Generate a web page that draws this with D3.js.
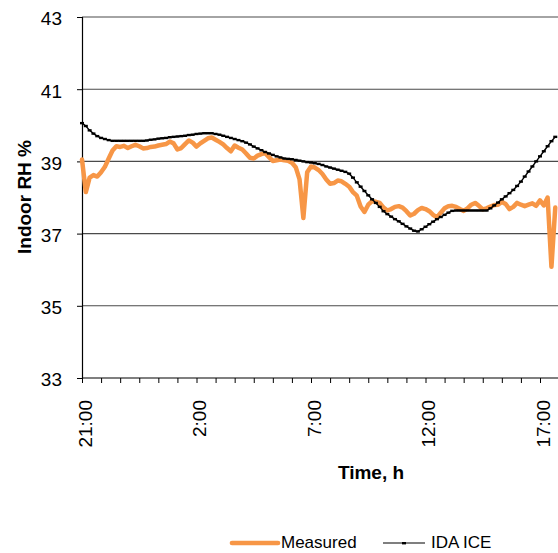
<!DOCTYPE html>
<html>
<head>
<meta charset="utf-8">
<script src="https://cdn.jsdelivr.net/npm/d3@7/dist/d3.min.js"></script>
<style>
  html, body { margin: 0; padding: 0; background: #fff; }
  svg { display: block; font-family: "Liberation Sans", Arial, sans-serif; }
</style>
</head>
<body>
<svg id="chart" width="558" height="553"></svg>
<script>
// Indoor relative humidity, 10-minute readings starting at 21:00
const stepMinutes = 10;

const measured = [
  39.05, 38.15, 38.55, 38.62, 38.58, 38.70, 38.85, 39.08, 39.30, 39.42,
  39.40, 39.43, 39.37, 39.42, 39.46, 39.42, 39.36, 39.37, 39.40, 39.41,
  39.44, 39.46, 39.48, 39.55, 39.50, 39.33, 39.37, 39.48, 39.58, 39.52,
  39.41, 39.50, 39.57, 39.64, 39.66, 39.60, 39.54, 39.47, 39.37, 39.28,
  39.44, 39.38, 39.33, 39.22, 39.10, 39.08, 39.16, 39.20, 39.23, 39.12,
  39.01, 39.03, 39.05, 39.03, 39.02, 38.96, 38.84, 38.50, 37.43, 38.70,
  38.86, 38.83, 38.76, 38.65, 38.50, 38.38, 38.40, 38.47, 38.45, 38.38,
  38.30, 38.15, 38.05, 37.75, 37.60, 37.80, 37.90, 37.88, 37.85, 37.72,
  37.64, 37.68, 37.74, 37.76, 37.72, 37.62, 37.50, 37.55, 37.65, 37.71,
  37.68, 37.62, 37.52, 37.45, 37.58, 37.70, 37.76, 37.77, 37.74, 37.68,
  37.63, 37.70, 37.80, 37.85, 37.77, 37.67, 37.70, 37.75, 37.79, 37.80,
  37.88, 37.82, 37.68, 37.74, 37.85, 37.80, 37.76, 37.80, 37.84, 37.77,
  37.92, 37.78, 38.00, 36.08, 37.72
];

const idaIce = [
  40.06, 39.98, 39.86, 39.77, 39.70, 39.65, 39.62, 39.59, 39.57, 39.57,
  39.57, 39.57, 39.57, 39.57, 39.57, 39.57, 39.57, 39.58, 39.60, 39.61,
  39.63, 39.64, 39.65, 39.67, 39.68, 39.69, 39.70, 39.71, 39.73, 39.74,
  39.76, 39.77, 39.78, 39.78, 39.78, 39.76, 39.74, 39.71, 39.68, 39.65,
  39.62, 39.59, 39.56, 39.52, 39.47, 39.41, 39.36, 39.31, 39.26, 39.22,
  39.18, 39.14, 39.11, 39.08, 39.07, 39.06, 39.04, 39.02, 39.00, 38.98,
  38.97, 38.95, 38.93, 38.90, 38.86, 38.83, 38.80, 38.77, 38.74, 38.71,
  38.66, 38.55, 38.42, 38.30, 38.18, 38.06, 37.95, 37.85, 37.74, 37.62,
  37.54, 37.47, 37.40, 37.34, 37.27, 37.20, 37.14, 37.08, 37.06, 37.12,
  37.19, 37.26, 37.33, 37.40, 37.46, 37.52, 37.58, 37.63, 37.64, 37.64,
  37.64, 37.64, 37.64, 37.64, 37.64, 37.64, 37.64, 37.70, 37.78, 37.86,
  37.95, 38.03, 38.12, 38.21, 38.32, 38.44, 38.58, 38.72, 38.86, 39.00,
  39.14, 39.28, 39.42, 39.56, 39.68
];

// Axis definitions
const yTicks = [33, 35, 37, 39, 41, 43];
const xTickMinutes = d3.range(0, 1251, 50);          // minor tick every 50 min
const xLabelMinutes = [0, 300, 600, 900, 1200];
const xLabels = ["21:00", "2:00", "7:00", "12:00", "17:00"];
const seriesNames = ["Measured", "IDA ICE"];

const svg = d3.select("#chart");
const plotLeft = 82, plotTop = 17, plotBottom = 378;
const x = d3.scaleLinear().domain([0, 1200]).range([plotLeft, plotLeft + 458]);
const y = d3.scaleLinear().domain([33, 43]).range([plotBottom, plotTop]);

// Horizontal gridlines
svg.append("g").selectAll("line")
  .data(yTicks.filter(v => v > 33))
  .join("line")
  .attr("x1", plotLeft).attr("x2", 558)
  .attr("y1", d => y(d)).attr("y2", d => y(d))
  .attr("stroke", "#4a4a4a").attr("stroke-width", 1.1);

// Y axis
const yAxis = d3.axisLeft(y).tickValues(yTicks).tickSize(5).tickPadding(15)
  .tickFormat(d3.format("d"));
const gy = svg.append("g").attr("transform", `translate(${plotLeft},0)`).call(yAxis);
gy.select(".domain").attr("stroke", "#000").attr("stroke-width", 1.2);
gy.selectAll(".tick line").attr("stroke", "#000");
gy.selectAll(".tick text")
  .attr("font-size", 19).attr("fill", "#000")
  .attr("font-family", "'Liberation Sans', Arial, sans-serif")
  .attr("dy", "0.42em");

// X axis
const xAxis = d3.axisBottom(x).tickValues(xTickMinutes).tickSize(5).tickFormat("");
const gx = svg.append("g").attr("transform", `translate(0,${plotBottom})`).call(xAxis);
gx.select(".domain").attr("d", `M${plotLeft},0H558`).attr("stroke", "#000").attr("stroke-width", 1.2);
gx.selectAll(".tick line").attr("stroke", "#000");

svg.append("g").selectAll("text")
  .data(xLabelMinutes)
  .join("text")
  .attr("transform", d => `translate(${x(d) + 9.5},400) rotate(-90)`)
  .attr("text-anchor", "end")
  .attr("font-size", 19)
  .attr("fill", "#000")
  .text((d, i) => xLabels[i]);

// Axis titles
svg.append("text")
  .attr("transform", "translate(31,197) rotate(-90)")
  .attr("text-anchor", "middle")
  .attr("font-size", 19).attr("font-weight", "bold")
  .text("Indoor RH %");

svg.append("text")
  .attr("x", 371).attr("y", 479)
  .attr("text-anchor", "middle")
  .attr("font-size", 19).attr("font-weight", "bold")
  .text("Time, h");

// Series lines
const line = d3.line()
  .x((d, i) => x(i * stepMinutes))
  .y(d => y(d));

svg.append("path")
  .datum(measured)
  .attr("d", line)
  .attr("fill", "none")
  .attr("stroke", "#F79646")
  .attr("stroke-width", 4.5)
  .attr("stroke-linejoin", "round")
  .attr("stroke-linecap", "round");

svg.append("path")
  .datum(idaIce)
  .attr("d", line)
  .attr("fill", "none")
  .attr("stroke", "#000")
  .attr("stroke-width", 1.4);

svg.append("g").selectAll("rect")
  .data(idaIce)
  .join("rect")
  .attr("x", (d, i) => x(i * stepMinutes) - 2)
  .attr("y", d => y(d) - 1.2)
  .attr("width", 4).attr("height", 2.4)
  .attr("fill", "#000");

// Legend along the bottom edge
const legend = svg.append("g");
legend.append("line")
  .attr("x1", 232).attr("x2", 278).attr("y1", 543).attr("y2", 543)
  .attr("stroke", "#F79646").attr("stroke-width", 4.7).attr("stroke-linecap", "round");
legend.append("text")
  .attr("x", 281).attr("y", 548).attr("font-size", 17)
  .text(seriesNames[0]);
legend.append("line")
  .attr("x1", 383).attr("x2", 425).attr("y1", 543).attr("y2", 543)
  .attr("stroke", "#000").attr("stroke-width", 1.2);
legend.append("rect")
  .attr("x", 402).attr("y", 542).attr("width", 4).attr("height", 2.4)
  .attr("fill", "#000");
legend.append("text")
  .attr("x", 431).attr("y", 548).attr("font-size", 17)
  .text(seriesNames[1]);
</script>
</body>
</html>
